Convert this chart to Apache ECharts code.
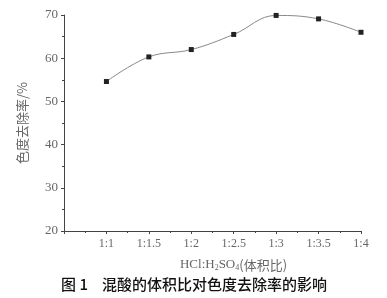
<!DOCTYPE html>
<html><head><meta charset="utf-8">
<script src="https://cdn.jsdelivr.net/npm/echarts@6/dist/echarts.min.js"></script>
<style>html,body{margin:0;padding:0;background:#fff}#c{width:387px;height:298px}</style>
</head><body><div id="c"></div>
<script>
var categories = ['1:1','1:1.5','1:2','1:2.5','1:3','1:3.5','1:4'];
var removalRate = [54.6, 60.3, 62.0, 65.5, 69.9, 69.1, 66.0];
var yTicks = [20, 30, 40, 50, 60, 70];

var chart = echarts.init(document.getElementById('c'));
var serif = '"Liberation Serif","DejaVu Serif",serif';
var cjk = '"Noto Sans CJK SC"';
chart.setOption({
  animation: false,
  backgroundColor: '#fff',
  grid: {left: 64, top: 15, right: 26, bottom: 67},
  graphic: [
    {type: 'text', left: 61, top: 277, style: {text: '图 1', font: '500 15px ' + cjk, fill: '#111'}},
    {type: 'text', left: 102, top: 277, style: {text: '混酸的体积比对色度去除率的影响', font: '500 15px ' + cjk, fill: '#111'}}
  ],
  xAxis: {
    type: 'value', min: 0, max: 7, interval: 1,
    axisLine: {show: true, lineStyle: {color: '#444', width: 1}},
    axisTick: {show: true, length: 3, lineStyle: {color: '#444'}},
    minorTick: {show: true, splitNumber: 2, length: 2, lineStyle: {color: '#444'}},
    splitLine: {show: false},
    axisLabel: {
      color: '#666', fontFamily: serif, fontSize: 12, margin: 7,
      formatter: function (v) { return (v >= 1 && v <= categories.length) ? categories[v - 1] : ''; }
    },
    name: '{a|HCl:H}{s|2}{a|SO}{s|4}{c|(体积比)}',
    nameLocation: 'middle', nameGap: 27,
    nameTextStyle: {
      padding: [0, 0, 0, 42],
      rich: {
        a: {fontFamily: serif, fontSize: 13, color: '#666'},
        s: {fontFamily: serif, fontSize: 8, color: '#666', verticalAlign: 'bottom', padding: [6,0,0,0]},
        c: {fontFamily: cjk, fontSize: 13, color: '#666'}
      }
    }
  },
  yAxis: {
    type: 'value', min: yTicks[0], max: yTicks[yTicks.length - 1], interval: 10,
    axisLine: {show: true, lineStyle: {color: '#444', width: 1}},
    axisTick: {show: true, length: 3, lineStyle: {color: '#444'}},
    minorTick: {show: true, splitNumber: 2, length: 2, lineStyle: {color: '#444'}},
    splitLine: {show: false},
    axisLabel: {color: '#666', fontFamily: serif, fontSize: 13, margin: 6},
    name: '色度去除率/%', nameLocation: 'middle', nameGap: 35, nameRotate: 90,
    nameTextStyle: {fontFamily: cjk, fontSize: 13, color: '#666'}
  },
  series: [{
    type: 'line', smooth: 0.4,
    data: removalRate.map(function (v, i) { return [i + 1, v]; }),
    symbol: 'rect', symbolSize: 5,
    itemStyle: {color: '#222'},
    lineStyle: {color: '#888', width: 1}
  }]
});
</script></body></html>
